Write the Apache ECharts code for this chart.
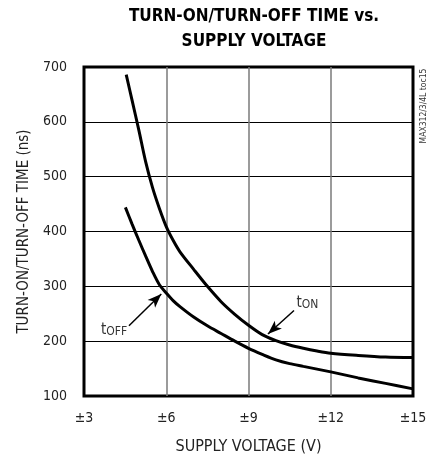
<!DOCTYPE html>
<html>
<head>
<meta charset="utf-8">
<script src="https://cdn.jsdelivr.net/npm/echarts@6/dist/echarts.min.js"></script>
<style>html,body{margin:0;padding:0;background:#fff;}#c{width:440px;height:460px;}</style>
</head>
<body>
<div id="c"></div>
<script>
// Data
const tOnVolt  = [4.54, 4.75, 5.0, 5.25, 5.5, 5.75, 6.0, 6.25, 6.5, 7.0, 7.5, 8.0, 8.5, 9.0, 9.5, 10.0, 10.5, 11.0, 11.5, 12.0, 13.0, 14.0, 15.0];
const tOnNs    = [686,  640,  585, 527,  480, 442,  409, 384,  363, 331, 300, 272, 249, 229, 212, 201,  193,  187,  182,  178,  174,  171,  170];
const tOffVolt = [4.51, 4.75, 5.0, 5.25, 5.5, 5.75, 6.0, 6.25, 6.5, 7.0, 7.5, 8.0, 8.5, 9.0, 9.5, 10.0, 10.5, 11.0, 12.0, 13.0, 14.0, 15.0];
const tOffNs   = [444,  414,  384, 355,  327, 303,  288, 274,  263, 244, 228, 214, 200, 187, 176, 166,  159,  154,  144,  133,  123,  113];
const xTicks = [3, 6, 9, 12, 15];
const yTicks = [100, 200, 300, 400, 500, 600, 700];
const titleText = 'TURN-ON/TURN-OFF TIME vs.\nSUPPLY VOLTAGE';
const xName = 'SUPPLY VOLTAGE (V)';
const yName = 'TURN-ON/TURN-OFF TIME (ns)';
const sideNote = 'MAX312/3/4L toc15';
// annotation anchors (data space)
const tOffArrow = [[4.64, 228], [5.82, 286]];
const tOnArrow  = [[10.66, 256], [9.71, 213]];
const tOffLabelAt = [4.1, 222];
const tOnLabelAt  = [11.15, 272];

const FONT = '"Liberation Sans Narrow", "DejaVu Sans Condensed", sans-serif';
const zip = (a, b) => a.map((v, i) => [v, b[i]]);

const chart = echarts.init(document.getElementById('c'), null, {renderer: 'canvas'});
const subRich = {
  t: {fontFamily: FONT, fontSize: 15, color: '#333', verticalAlign: 'bottom'},
  s: {fontFamily: FONT, fontSize: 12, color: '#333', padding: [6, 0, 0, 0], verticalAlign: 'bottom'}
};
chart.setOption({
  animation: false,
  backgroundColor: '#fff',
  title: {
    text: titleText, left: 249, top: -1, textAlign: 'center',
    textStyle: {fontFamily: FONT, fontWeight: 'bold', fontSize: 17, lineHeight: 25, color: '#000'}
  },
  grid: {left: 84, right: 27, top: 67, bottom: 63, show: true, borderColor: '#000', borderWidth: 3, backgroundColor: 'transparent'},
  xAxis: {
    type: 'value', min: xTicks[0], max: xTicks[xTicks.length - 1], interval: 3,
    axisLine: {show: false}, axisTick: {show: false},
    axisLabel: {formatter: v => '\u00b1' + v, fontFamily: FONT, fontSize: 14, color: '#222', margin: 15},
    splitLine: {show: true, showMinLine: false, showMaxLine: false, lineStyle: {color: '#7a7a7a', width: 1.5}},
    name: xName, nameLocation: 'middle', nameGap: 43,
    nameTextStyle: {fontFamily: FONT, fontSize: 16, color: '#222'}
  },
  yAxis: {
    type: 'value', min: yTicks[0], max: yTicks[yTicks.length - 1], interval: 100,
    axisLine: {show: false}, axisTick: {show: false},
    axisLabel: {fontFamily: FONT, fontSize: 14, color: '#222', margin: 17, padding: [4, 0, 0, 0]},
    splitLine: {show: true, showMinLine: false, showMaxLine: false, lineStyle: {color: '#000', width: 1}},
    name: yName, nameLocation: 'middle', nameGap: 50,
    nameTextStyle: {fontFamily: FONT, fontSize: 15, color: '#222'}
  },
  graphic: [{
    type: 'text', x: 424, y: 106, rotation: Math.PI / 2,
    style: {text: sideNote, fontFamily: FONT, fontSize: 8.5, fill: '#333', textAlign: 'center', textVerticalAlign: 'middle'}
  }],
  series: [
    {
      name: 'tON', type: 'line', data: zip(tOnVolt, tOnNs), smooth: 0.3, showSymbol: false,
      lineStyle: {color: '#000', width: 3}, z: 5,
      markLine: {
        silent: true, symbol: ['none', 'arrow'], symbolSize: [8, 14],
        lineStyle: {color: '#000', width: 1.5, type: 'solid'}, label: {show: false},
        data: [[{coord: tOnArrow[0]}, {coord: tOnArrow[1]}]]
      },
      markPoint: {
        silent: true, symbol: 'circle', symbolSize: 0,
        label: {show: true, position: 'inside', formatter: '{t|t}{s|ON}', rich: subRich},
        data: [{coord: tOnLabelAt}]
      }
    },
    {
      name: 'tOFF', type: 'line', data: zip(tOffVolt, tOffNs), smooth: 0.3, showSymbol: false,
      lineStyle: {color: '#000', width: 3}, z: 5,
      markLine: {
        silent: true, symbol: ['none', 'arrow'], symbolSize: [8, 14],
        lineStyle: {color: '#000', width: 1.5, type: 'solid'}, label: {show: false},
        data: [[{coord: tOffArrow[0]}, {coord: tOffArrow[1]}]]
      },
      markPoint: {
        silent: true, symbol: 'circle', symbolSize: 0,
        label: {show: true, position: 'inside', formatter: '{t|t}{s|OFF}', rich: subRich},
        data: [{coord: tOffLabelAt}]
      }
    }
  ]
});
</script>
</body>
</html>
